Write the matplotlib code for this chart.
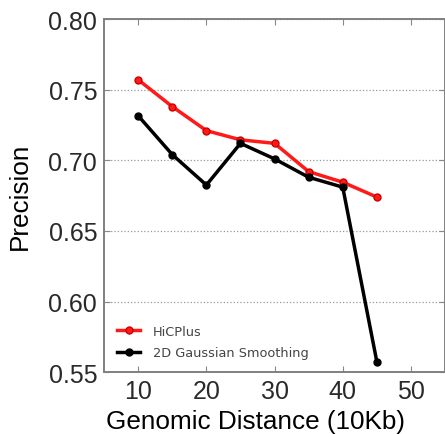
import numpy as np
import matplotlib
matplotlib.use("Agg")
import matplotlib.pyplot as plt

# genomic distance (10Kb) and precision values
dist = [10, 15, 20, 25, 30, 35, 40, 45]
hicplus = [0.757, 0.738, 0.721, 0.7145, 0.712, 0.692, 0.6845, 0.674]
gauss = [0.7315, 0.704, 0.6825, 0.712, 0.701, 0.688, 0.681, 0.5575]

xticks = [10, 20, 30, 40, 50]
yticks = [0.55, 0.60, 0.65, 0.70, 0.75, 0.80]

fig = plt.figure(figsize=(4.45, 4.35), dpi=100)
ax = fig.add_axes([0.234, 0.142, 0.766, 0.812])

ax.plot(dist, hicplus, '-o', color='#ff1a1a', mec='#cc0000', lw=2.5, ms=5, label='HiCPlus')
ax.plot(dist, gauss, '-o', color='black', lw=2.5, ms=5, label='2D Gaussian Smoothing')

ax.set_xlim(5, 55)
ax.set_ylim(0.55, 0.80)
ax.set_xticks(xticks)
ax.set_yticks(yticks)
ax.yaxis.grid(True, linestyle=':', color='#999999', lw=0.9)
ax.set_axisbelow(True)

ax.tick_params(direction='in', top=True, right=True, length=4, width=0.8,
               color='#888888', labelsize=18, labelcolor='#2a2a2a', pad=5)
for lab in ax.get_xticklabels() + ax.get_yticklabels():
    lab.set_family('Liberation Sans')
for s in ax.spines.values():
    s.set_color('#808080')
    s.set_linewidth(1.4)

ax.set_xlabel('Genomic Distance (10Kb)', fontsize=18.8, family='Liberation Sans')
ax.set_ylabel('Precision', fontsize=18.8, family='Liberation Sans')
ax.xaxis.set_label_coords(0.443, -0.103)
ax.yaxis.set_label_coords(-0.212, 0.5)

leg = ax.legend(loc='lower left', frameon=False, fontsize=9.3, handlelength=1.8,
                handletextpad=1.0, borderaxespad=0.6, labelspacing=0.65)
for t in leg.get_texts():
    t.set_color('#444444')

fig.savefig('out.png', dpi=100)
